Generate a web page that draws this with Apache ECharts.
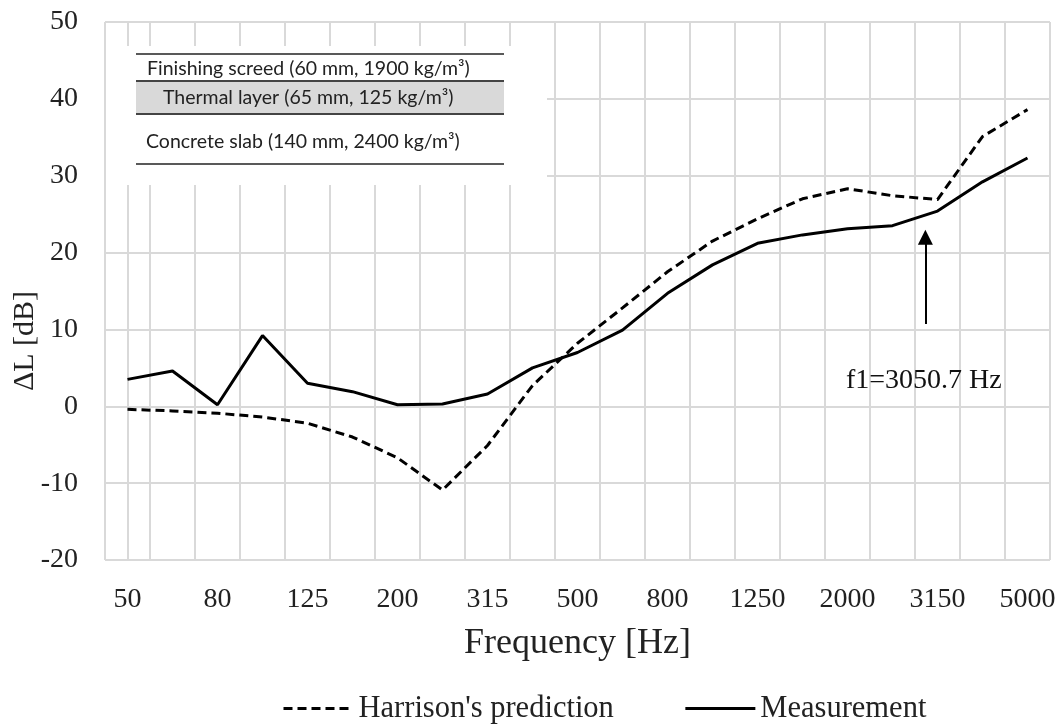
<!DOCTYPE html>
<html>
<head>
<meta charset="utf-8">
<script src="https://cdn.jsdelivr.net/npm/echarts@6/dist/echarts.min.js"></script>
<style>html,body{margin:0;padding:0;background:#fff}#c{width:1061px;height:726px}</style>
</head>
<body>
<div id="c"></div>
<script>
const categories = ['50','63','80','100','125','160','200','250','315','400','500','630','800','1000','1250','1600','2000','2500','3150','4000','5000'];
const harrison = [-0.4, -0.6, -0.9, -1.4, -2.2, -4.0, -6.7, -10.9, -5.1, 2.7, 8.2, 12.8, 17.5, 21.5, 24.4, 27.0, 28.3, 27.4, 26.9, 35.1, 38.6];
const measurement = [3.5, 4.6, 0.2, 9.2, 3.0, 1.9, 0.2, 0.3, 1.6, 5.0, 7.0, 9.9, 14.7, 18.4, 21.2, 22.3, 23.1, 23.5, 25.4, 29.2, 32.3];
const yTicks = {min: -20, max: 50, interval: 10};
const arrowX = 17.73;          // position of f1 between 2500 and 3150 bands (category index)
const arrowFrom = 10.7, arrowTo = 22.0;
const annotation = 'f1=3050.7 Hz';
const layers = ['Finishing screed (60 mm, 1900 kg/m³)', 'Thermal layer (65 mm, 125 kg/m³)', 'Concrete slab (140 mm, 2400 kg/m³)'];

const serif = '"Liberation Serif", "Times New Roman", serif';
const sans = 'Lato, "Open Sans", sans-serif';
const chart = echarts.init(document.getElementById('c'), null, {renderer: 'canvas'});
chart.setOption({
  animation: false,
  backgroundColor: '#fff',
  grid: {left: 105, right: 11, top: 22, bottom: 166, containLabel: false},
  xAxis: [{
    type: 'category', data: categories, boundaryGap: true,
    name: 'Frequency [Hz]', nameLocation: 'middle', nameGap: 66,
    nameTextStyle: {fontFamily: serif, fontSize: 36, color: '#222'},
    axisLine: {show: true, lineStyle: {color: '#d9d9d9', width: 2}},
    axisTick: {show: false},
    axisLabel: {interval: 1, margin: 26, fontFamily: serif, fontSize: 28, color: '#222'},
    splitLine: {show: true, interval: 0, lineStyle: {color: '#d9d9d9', width: 2}}
  }, {
    type: 'value', min: -0.5, max: 20.5, show: false
  }],
  yAxis: {
    type: 'value', min: yTicks.min, max: yTicks.max, interval: yTicks.interval,
    axisLine: {show: true, lineStyle: {color: '#d9d9d9', width: 2}},
    axisTick: {show: false},
    axisLabel: {margin: 27, fontFamily: serif, fontSize: 28, color: '#222'},
    splitLine: {show: true, lineStyle: {color: '#d9d9d9', width: 2}}
  },
  legend: {
    top: 688, left: 277, itemWidth: 70, itemHeight: 14, itemGap: 70,
    itemStyle: {opacity: 0},
    lineStyle: {width: 3},
    textStyle: {fontFamily: serif, fontSize: 30.5, color: '#222'},
    data: ["Harrison's prediction", 'Measurement']
  },
  series: [{
    name: "Harrison's prediction", type: 'line', data: harrison, symbol: 'none',
    lineStyle: {color: '#000', width: 3, type: [9, 5]}, itemStyle: {color: '#000'}, z: 3
  }, {
    name: 'Measurement', type: 'line', data: measurement, symbol: 'none',
    lineStyle: {color: '#000', width: 3}, itemStyle: {color: '#000'}, z: 4
  }, {
    name: 'f1', type: 'line', xAxisIndex: 1, data: [], symbol: 'none',
    markLine: {
      silent: true, animation: false,
      symbol: ['none', 'triangle'], symbolSize: [15, 15],
      label: {show: false},
      lineStyle: {color: '#000', width: 2, type: 'solid'},
      data: [[{coord: [arrowX, arrowFrom]}, {coord: [arrowX, arrowTo]}]]
    }
  }],
  graphic: [
    {type: 'rect', z: 10, shape: {x: 106, y: 46, width: 441, height: 139}, style: {fill: '#fff'}},
    {type: 'rect', z: 11, shape: {x: 136, y: 81, width: 368, height: 33}, style: {fill: '#d9d9d9'}},
    {type: 'line', z: 12, shape: {x1: 136, y1: 54, x2: 504, y2: 54}, style: {stroke: '#222', lineWidth: 1.5}},
    {type: 'line', z: 12, shape: {x1: 136, y1: 81, x2: 504, y2: 81}, style: {stroke: '#444', lineWidth: 2}},
    {type: 'line', z: 12, shape: {x1: 136, y1: 114, x2: 504, y2: 114}, style: {stroke: '#444', lineWidth: 2}},
    {type: 'line', z: 12, shape: {x1: 136, y1: 164, x2: 504, y2: 164}, style: {stroke: '#222', lineWidth: 1.5}},
    {type: 'text', z: 13, x: 147, y: 69, style: {text: layers[0], font: '19.5px ' + sans, fill: '#222', verticalAlign: 'middle'}},
    {type: 'text', z: 13, x: 163, y: 98, style: {text: layers[1], font: '19.5px ' + sans, fill: '#222', verticalAlign: 'middle'}},
    {type: 'text', z: 13, x: 146, y: 142, style: {text: layers[2], font: '19.5px ' + sans, fill: '#222', verticalAlign: 'middle'}},
    {type: 'text', z: 13, x: 846, y: 381, style: {text: annotation, font: '28px ' + serif, fill: '#111', verticalAlign: 'middle'}},
    {type: 'text', z: 13, x: 25, y: 341, rotation: Math.PI / 2, style: {text: 'ΔL [dB]', font: '30px ' + serif, fill: '#222', align: 'center', verticalAlign: 'middle'}}
  ]
});
</script>
</body>
</html>
